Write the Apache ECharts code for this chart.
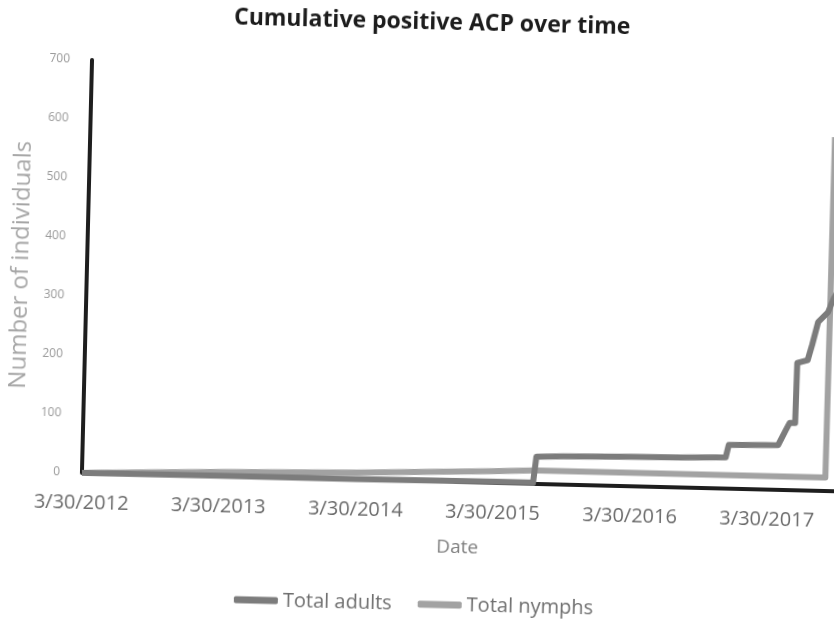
<!DOCTYPE html>
<html>
<head>
<meta charset="utf-8">
<script src="https://cdn.jsdelivr.net/npm/echarts@6/dist/echarts.min.js"></script>
<style>
  html, body { margin: 0; padding: 0; background: #ffffff; overflow: hidden; width: 834px; height: 621px; }
  #chart { width: 900px; height: 621px; transform: rotate(1.4deg); transform-origin: 417px 310.5px; }
</style>
</head>
<body>
<div id="chart"></div>
<script>
// x values: years elapsed since 3/30/2012
var yearLabels = ['3/30/2012', '3/30/2013', '3/30/2014', '3/30/2015', '3/30/2016', '3/30/2017'];
var yTicks = [0, 100, 200, 300, 400, 500, 600, 700];

var adultsX = [0, 1, 2, 3.0, 3.29, 3.31, 3.5, 4.0, 4.36, 4.69, 4.71, 5.07, 5.12, 5.15, 5.19, 5.195, 5.27, 5.30, 5.34, 5.41, 5.45, 5.5];
var adultsY = [0, 1, 1, 2, 2, 46, 48, 50, 51, 53, 74, 76, 100, 114, 114, 216, 221, 247, 286, 303, 327, 345];

var nymphsX = [0, 0.5, 1, 2, 3, 3.3, 4.0, 4.5, 5.0, 5.42, 5.43];
var nymphsY = [0, 4, 7, 12, 20, 23, 23, 23, 23, 23, 600];

var otherX = [0, 0, 5.6];
var otherY = [700, 0, 0];

function pairs(xs, ys) { return xs.map(function (x, i) { return [x, ys[i]]; }); }

var chart = echarts.init(document.getElementById('chart'), null, { width: 900, height: 621 });
chart.setOption({
  animation: false,
  backgroundColor: '#ffffff',
  title: {
    text: 'Cumulative positive ACP over time',
    left: 222, top: 6,
    textStyle: { fontFamily: 'Open Sans', fontSize: 23, fontWeight: 'bold', color: '#1c1c1c' }
  },
  legend: {
    data: ['Total adults', 'Total nymphs'],
    left: 236, top: 589,
    icon: 'roundRect',
    itemWidth: 44, itemHeight: 7, itemGap: 26,
    textStyle: { fontFamily: 'Open Sans', fontSize: 20, color: '#6e6e6e' }
  },
  grid: { left: 86, top: 68, width: 768, height: 413, containLabel: false, outerBoundsMode: 'none' },
  xAxis: {
    type: 'value', min: 0, max: 5.6, interval: 1,
    name: 'Date', nameLocation: 'middle', nameGap: 56,
    nameTextStyle: { fontFamily: 'Open Sans', fontSize: 19, color: '#808080', padding: [0, 14, 0, 0] },
    axisLine: { show: false }, axisTick: { show: false }, splitLine: { show: false },
    axisLabel: {
      margin: 20, showMaxLabel: false,
      fontFamily: 'Open Sans', fontSize: 20, color: '#6b6b6b',
      formatter: function (v) { return Number.isInteger(v) && yearLabels[v] ? yearLabels[v] : ''; }
    }
  },
  yAxis: {
    type: 'value', min: yTicks[0], max: yTicks[yTicks.length - 1], interval: 100,
    name: 'Number of individuals', nameLocation: 'middle', nameGap: 40, nameRotate: 90,
    nameTextStyle: { fontFamily: 'Open Sans', fontSize: 24, color: '#a6a6a6' },
    axisLine: { show: false }, axisTick: { show: false }, splitLine: { show: false },
    axisLabel: { margin: 22, fontFamily: 'Open Sans', fontSize: 12, color: '#999999' }
  },
  series: [
    {
      name: 'Series 3', type: 'line', data: pairs(otherX, otherY), showSymbol: false, symbol: 'none', clip: false,
      lineStyle: { color: '#1e1e1e', width: 4, cap: 'round', join: 'round' }, itemStyle: { color: '#1e1e1e' }, z: 1
    },
    {
      name: 'Total adults', type: 'line', data: pairs(adultsX, adultsY), showSymbol: false, symbol: 'none',
      lineStyle: { color: '#7c7c7c', width: 6, join: 'round' }, itemStyle: { color: '#7c7c7c' }, z: 3
    },
    {
      name: 'Total nymphs', type: 'line', data: pairs(nymphsX, nymphsY), showSymbol: false, symbol: 'none',
      lineStyle: { color: '#a2a2a2', width: 6, join: 'round' }, itemStyle: { color: '#a2a2a2' }, z: 2
    }
  ]
});
</script>
</body>
</html>
